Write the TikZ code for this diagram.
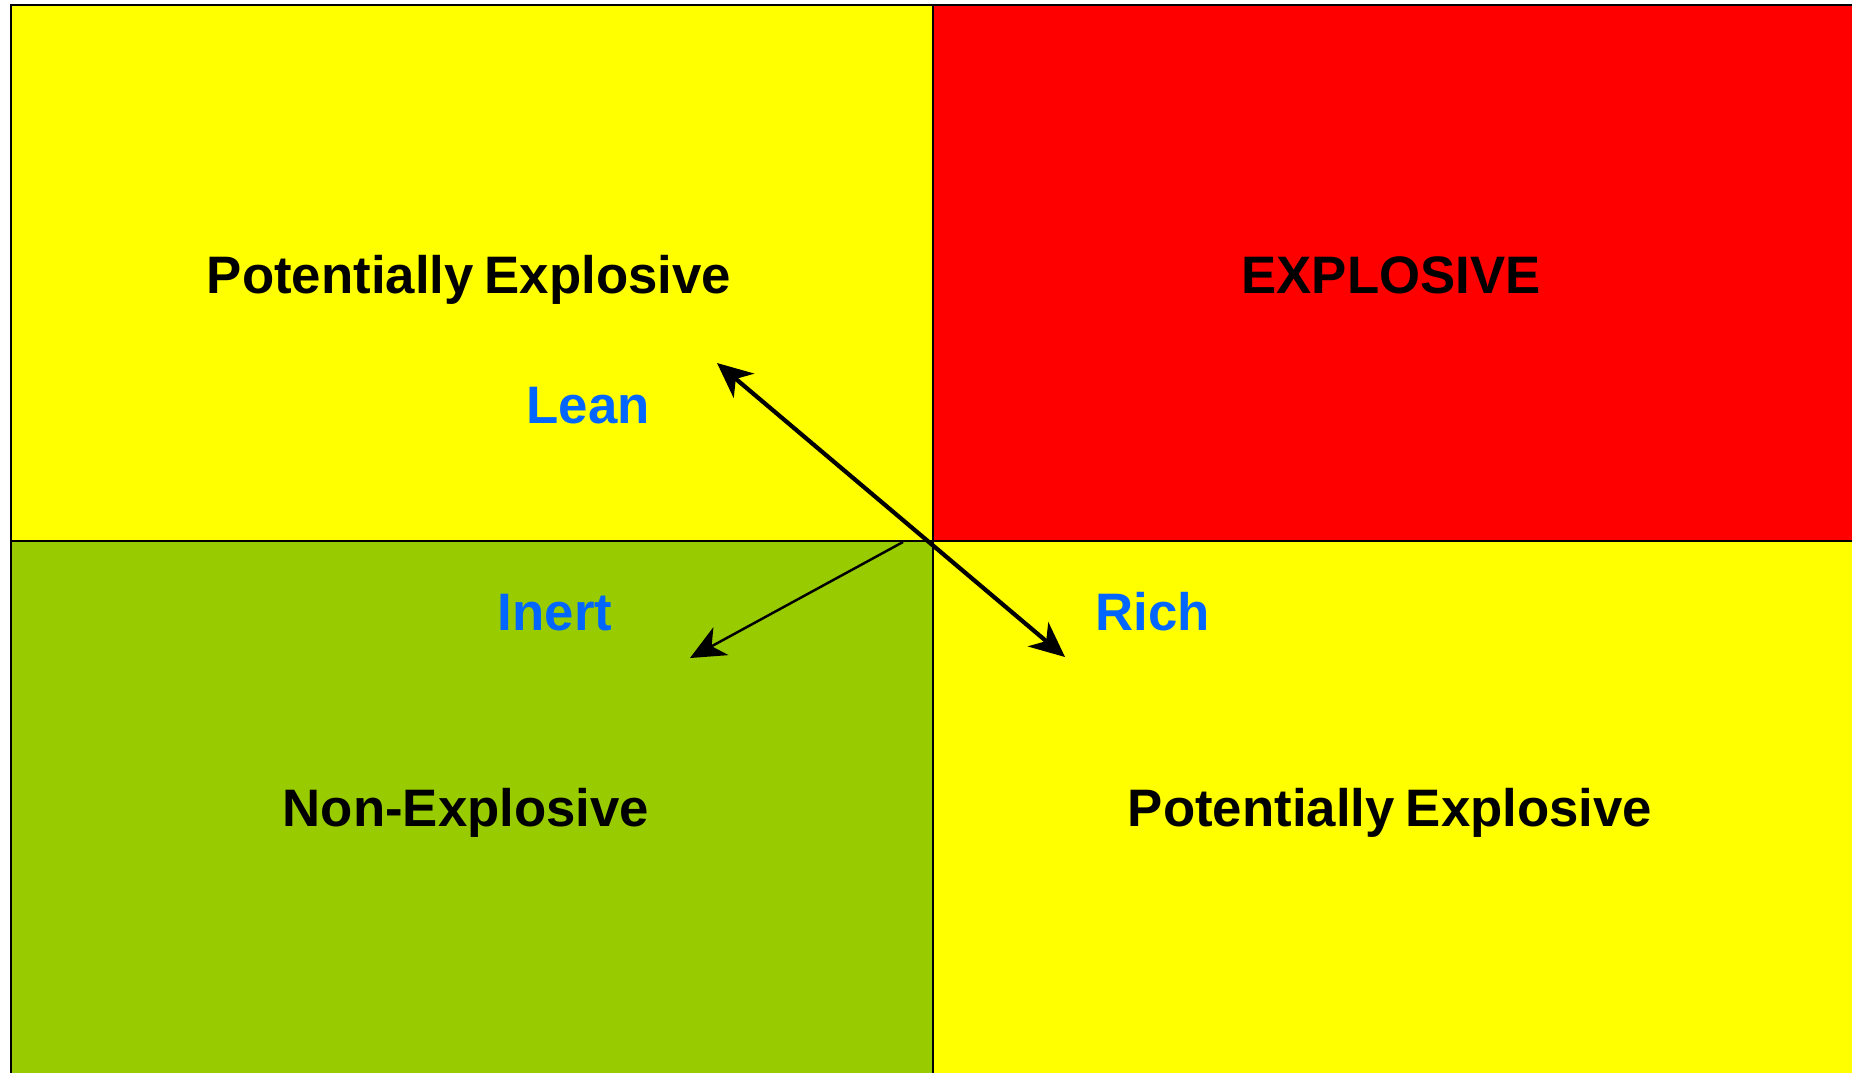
\documentclass[tikz,border=0pt]{standalone}
\usepackage{fontspec}
\setmainfont{Liberation Sans}
\usetikzlibrary{arrows.meta}
\definecolor{warnyellow}{RGB}{255,255,0}
\definecolor{dangerred}{RGB}{255,0,0}
\definecolor{inertgreen}{RGB}{153,204,0}
\definecolor{mixblue}{RGB}{0,102,255}

\begin{document}
\begin{tikzpicture}[x=0.01cm, y=-0.01cm, font=\bfseries\fontsize{15}{18}\selectfont,
		zone/.style={anchor=base, inner sep=0pt},
		mixlabel/.style={anchor=base, inner sep=0pt, text=mixblue}]
		\useasboundingbox (0,0) rectangle (1852,1072); % Fix the page size
		\clip (0,0) rectangle (1852,1072);

		\fill[warnyellow] (11,5) rectangle (933,541); % Draw the lean quadrant
		\fill[dangerred] (933,5) rectangle (1900,541); % Draw the explosive quadrant
		\fill[inertgreen] (11,541) rectangle (933,1100); % Draw the inert quadrant
		\fill[warnyellow] (933,541) rectangle (1900,1100); % Draw the rich quadrant

		\draw[line width=0.6pt] (11,1100) -- (11,5) -- (1900,5); % Draw the outer border
		\draw[line width=0.6pt] (933,5) -- (933,1100); % Draw the vertical divider
		\draw[line width=0.6pt] (11,541) -- (1900,541); % Draw the horizontal divider

		\node[zone] (potlean) at (469,293) {Potentially\hspace{-1pt} Explosive};
		\node[zone] (explosive) at (1391,293) {EXPLOSIVE};
		\node[zone] (nonexpl) at (466,826) {Non-Explosive};
		\node[zone] (potrich) at (1390,826) {Potentially\hspace{-1pt} Explosive};

		\node[mixlabel] (lean) at (588,423) {Lean};
		\node[mixlabel] (inert) at (555,630) {Inert};
		\node[mixlabel] (rich) at (1153,630) {Rich};

		\coordinate (leanend) at (717,363);
		\coordinate (richend) at (1065,657);
		\coordinate (inertstart) at (903,542);
		\coordinate (inertend) at (690,658);

		\draw[<->,>={Stealth[length=10pt,width=9pt,inset=3pt]}, line width=1.2pt] (leanend) -- (richend); % Draw the lean/rich arrow
		\draw[->,>={Stealth[length=10pt,width=9pt,inset=3pt]}, line width=0.7pt] (inertstart) -- (inertend); % Draw the inert arrow
	\end{tikzpicture}
\end{document}
